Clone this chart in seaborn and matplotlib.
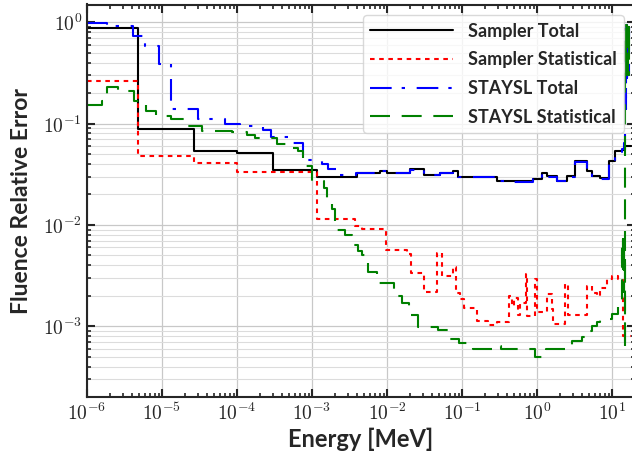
import numpy as np
import pandas as pd
import matplotlib
matplotlib.use("Agg")
import matplotlib.pyplot as plt
import matplotlib.ticker as mticker
import seaborn as sns

# Bin edges [MeV] and per-bin relative errors (one value per bin)
sampler_total_E = [1e-6, 4.8e-6, 2.7e-5, 1.0e-4, 3.05e-4, 1.16e-3, 4.0e-3, 8.1e-3, 9.9e-3,
                   2.03e-2, 3.1e-2, 5.1e-2, 7.6e-2, 8.8e-2, 0.157, 0.29, 0.48, 0.885, 1.156,
                   1.35, 1.83, 2.49, 3.21, 4.6, 5.36, 6.92, 9.2, 11.0, 13.5, 14.9, 18.0]
sampler_total = [0.885, 0.089, 0.054, 0.0508, 0.0348, 0.0294, 0.0325, 0.0339, 0.0325,
                 0.0357, 0.0312, 0.0325, 0.034, 0.0294, 0.0297, 0.0273, 0.027, 0.0285, 0.0329,
                 0.0305, 0.0273, 0.0305, 0.0432, 0.034, 0.0305, 0.029, 0.0423, 0.054, 0.055, 0.06]

sampler_stat_E = [1e-6, 4.8e-6, 2.7e-5, 1.0e-4, 1.16e-3, 3.7e-3, 4.6e-3, 9.7e-3, 1.83e-2,
                  2.09e-2, 3.1e-2, 4.7e-2, 5.35e-2, 7.6e-2, 8.4e-2, 9.4e-2, 0.106, 0.157,
                  0.224, 0.29, 0.428, 0.46, 0.50, 0.55, 0.60, 0.713, 0.74, 0.94, 1.0, 1.35,
                  1.57, 1.65, 2.36, 2.61, 4.6, 5.36, 6.25, 6.92, 8.5, 9.9, 12.1, 13.8, 18.0]
sampler_stat = [0.262, 0.0475, 0.041, 0.0335, 0.01154, 0.0098, 0.0091, 0.00565, 0.0052,
                0.00337, 0.00217, 0.0053, 0.0031, 0.0038, 0.00215, 0.00184, 0.00151, 0.00112,
                0.00102, 0.00109, 0.0020, 0.0016, 0.0019, 0.0013, 0.0017, 0.00325, 0.00125,
                0.0029, 0.00137, 0.0021, 0.00147, 0.00104, 0.00259, 0.00128, 0.00249, 0.00215,
                0.0020, 0.0024, 0.0029, 0.0031, 0.0029, 0.0008]

staysl_total_E = [1e-6, 1.83e-6, 4.07e-6, 6.0e-6, 9.1e-6, 1.32e-5, 3.05e-5, 6.9e-5, 1.1e-4,
                  2.2e-4, 2.8e-4, 5.1e-4, 7.7e-4, 1.35e-3, 1.65e-3, 2.15e-3, 3.9e-3, 8.1e-3,
                  9.9e-3, 2.03e-2, 3.1e-2, 5.1e-2, 7.6e-2, 8.8e-2, 0.157, 0.29, 0.48, 0.885,
                  1.156, 1.35, 1.83, 2.49, 3.21, 4.6, 5.36, 6.92, 9.2, 11.0, 13.5, 14.4, 15.0,
                  15.2, 15.4, 15.6, 15.8, 16.2, 16.6, 17.0, 18.0]
staysl_total = [0.98, 0.92, 0.74, 0.59, 0.39, 0.14, 0.111, 0.10, 0.094,
                0.087, 0.074, 0.065, 0.044, 0.040, 0.036, 0.031, 0.0325, 0.0339,
                0.0325, 0.0350, 0.0312, 0.0322, 0.0335, 0.0294, 0.0295, 0.0272, 0.0268, 0.0283,
                0.0325, 0.0298, 0.0270, 0.0300, 0.0415, 0.0335, 0.0298, 0.0285, 0.040, 0.052,
                0.056, 0.065, 0.85, 0.14, 0.95, 0.28, 0.75, 0.30, 0.9, 0.5]

staysl_stat_E = [1e-6, 1.57e-6, 1.83e-6, 2.6e-6, 4.27e-6, 6.1e-6, 8.3e-6, 1.32e-5, 2.03e-5,
                 3.39e-5, 8.5e-5, 1.35e-4, 1.74e-4, 3.4e-4, 4.6e-4, 6.6e-4, 7.7e-4, 9.9e-4,
                 1.45e-3, 1.6e-3, 1.85e-3, 2.03e-3, 2.75e-3, 3.44e-3, 4.14e-3, 4.6e-3, 5.6e-3,
                 7.4e-3, 1.25e-2, 1.57e-2, 1.98e-2, 2.61e-2, 4.83e-2, 6.92e-2, 9.2e-2, 0.142,
                 0.314, 0.33, 0.94, 1.32, 2.9, 3.95, 4.46, 5.36, 6.25, 6.92, 9.9, 12.1, 13.4,
                 13.6, 13.8, 14.0, 14.2, 14.4, 14.6, 14.8, 15.0, 15.2, 15.4, 15.6, 15.8, 16.2,
                 16.6, 17.0, 18.0]
staysl_stat = [0.153, 0.169, 0.232, 0.212, 0.169, 0.134, 0.12, 0.111, 0.094,
               0.084, 0.082, 0.078, 0.072, 0.063, 0.057, 0.054, 0.0385, 0.0273,
               0.0233, 0.0174, 0.0145, 0.0089, 0.0079, 0.0064, 0.0055, 0.0051, 0.0034,
               0.0027, 0.00198, 0.0017, 0.00128, 0.00098, 0.00091, 0.00075, 0.00069, 0.00060,
               0.00064, 0.00060, 0.0005, 0.0006, 0.00071, 0.00079, 0.00089, 0.00100, 0.00109,
               0.00118, 0.00132, 0.00177, 0.0066, 0.0042, 0.0072, 0.0037, 0.0060, 0.0022,
               0.0058, 0.00058, 0.85, 0.30, 0.95, 0.40, 0.75, 0.30, 0.9, 0.5]


def step_frame(edges, values):
    """Histogram-style frame: repeat the last bin value at the upper edge."""
    return pd.DataFrame({"Energy": edges, "Error": list(values) + [values[-1]]})


sns.set_style("ticks")
plt.rcParams["font.family"] = ["Lato", "DejaVu Sans"]
plt.rcParams["mathtext.fontset"] = "cm"

fig = plt.figure(figsize=(6.32, 4.55), dpi=100)
ax = fig.add_axes([87 / 632, 58 / 455, 547.6 / 632, 392.5 / 455])

curves = [
    ("Sampler Total", sampler_total_E, sampler_total, "black", "-"),
    ("Sampler Statistical", sampler_stat_E, sampler_stat, "red", (0, (2.2, 2.2))),
    ("STAYSL Total", staysl_total_E, staysl_total, "blue", (0, (10.4, 4.8, 1.6, 5.6))),
    ("STAYSL Statistical", staysl_stat_E, staysl_stat, "green", (0, (9.6, 5.6))),
]
for label, E, vals, color, ls in curves:
    sns.lineplot(data=step_frame(E, vals), x="Energy", y="Error", color=color,
                 linestyle=ls, linewidth=1.5, drawstyle="steps-post",
                 estimator=None, sort=False, label=label, ax=ax)

ax.set_xscale("log")
ax.set_yscale("log")
ax.set_xlim(1e-6, 20)
ax.set_ylim(2e-4, 1.5)

dec_fmt = mticker.FuncFormatter(lambda v, p: r"$10^{%d}$" % int(round(np.log10(v))))
for axis in (ax.xaxis, ax.yaxis):
    axis.set_major_locator(mticker.LogLocator(base=10, numticks=30))
    axis.set_minor_locator(mticker.LogLocator(base=10, subs=np.arange(2, 10), numticks=30))
    axis.set_major_formatter(dec_fmt)
    axis.set_minor_formatter(mticker.NullFormatter())

ax.tick_params(which="both", direction="in", top=True, right=True, labelsize=14)
ax.tick_params(which="major", length=6, width=1.5)
ax.tick_params(which="minor", length=3, width=1.2)
for sp in ax.spines.values():
    sp.set_linewidth(1.5)

ax.grid(which="major", color="#c8c8c8", linewidth=0.9)
ax.yaxis.grid(which="minor", color="#dcdcdc", linewidth=0.8)
ax.set_axisbelow(True)

ax.set_xlabel("Energy [MeV]", fontsize=17, fontweight="bold", labelpad=3)
ax.set_ylabel("Fluence Relative Error", fontsize=16.5, fontweight="bold", labelpad=8)

handles, labels = ax.get_legend_handles_labels()
ax.legend(handles, labels, loc="upper right", prop={"weight": "bold", "size": 13},
          handlelength=4.6, handletextpad=0.8, labelspacing=0.65, borderaxespad=0.6,
          framealpha=0.8, fancybox=True, edgecolor="#d0d0d0")

fig.savefig("out.png", dpi=100)
